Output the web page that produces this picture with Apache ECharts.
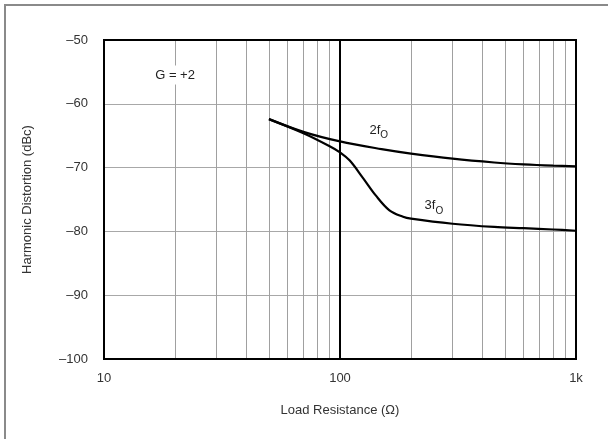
<!DOCTYPE html>
<html><head><meta charset="utf-8">
<script src="https://cdn.jsdelivr.net/npm/echarts@6/dist/echarts.min.js"></script>
<style>html,body{margin:0;padding:0;background:#fff}#c{width:608px;height:439px}</style>
</head><body><div id="c"></div>
<script>
var resistance2 = [50, 70, 100, 150, 200, 300, 450, 600, 800, 1000];
var hd2 = [-62.4, -64.4, -65.9, -67.1, -67.8, -68.6, -69.2, -69.5, -69.7, -69.8];
var resistance3 = [50, 70, 90, 100, 110, 125, 142, 162, 185, 200, 300, 450, 600, 800, 1000];
var hd3 = [-62.4, -64.6, -66.6, -67.6, -68.9, -71.6, -74.4, -76.7, -77.7, -78.0, -78.8, -79.3, -79.5, -79.7, -79.9];
var minorX = [20, 30, 40, 50, 60, 70, 80, 90, 200, 300, 400, 500, 600, 700, 800, 900];
var majorX = [100];
var xTickLabels = {10: '10', 100: '100', 1000: '1k'};

var font = 'Liberation Sans, Arial, sans-serif';
var chart = echarts.init(document.getElementById('c'));
var lblRich = {
  b: {fontSize: 13, fontFamily: font, color: '#222'},
  s: {fontSize: 10, fontFamily: font, color: '#222', padding: [10, 0, 0, 0]}
};
chart.setOption({
  animation: false,
  grid: {left: 104, top: 40, width: 472, height: 319, show: true, borderColor: '#000', borderWidth: 2, backgroundColor: 'transparent', z: 10},
  graphic: [
    {type: 'polyline', shape: {points: [[5, 439], [5, 5], [608, 5]]}, style: {stroke: '#8a8a8a', lineWidth: 2, fill: null}}
  ],
  xAxis: {
    type: 'log', logBase: 10, min: 10, max: 1000,
    name: 'Load Resistance (Ω)', nameLocation: 'middle', nameGap: 45,
    nameTextStyle: {fontSize: 13, fontFamily: font, color: '#333'},
    axisLine: {show: false}, axisTick: {show: false}, splitLine: {show: false},
    axisLabel: {fontSize: 13, fontFamily: font, color: '#333', margin: 13,
      formatter: function (v) { return xTickLabels[Math.round(v)] || ''; }}
  },
  yAxis: {
    type: 'value', min: -100, max: -50, interval: 10,
    name: 'Harmonic Distortion (dBc)', nameLocation: 'middle', nameGap: 70,
    nameTextStyle: {fontSize: 13, fontFamily: font, color: '#333'},
    axisLine: {show: false}, axisTick: {show: false},
    splitLine: {show: true, lineStyle: {color: '#a8a8a8', width: 1}},
    axisLabel: {fontSize: 13, fontFamily: font, color: '#333', margin: 16,
      formatter: function (v) { return String(v).replace('-', '\u2013'); }}
  },
  series: [
    {type: 'line', data: [], silent: true,
      markLine: {silent: true, symbol: 'none', label: {show: false},
        lineStyle: {color: '#a0a0a0', width: 1, type: 'solid'},
        data: minorX.map(function (v) { return {xAxis: v}; })}},
    {type: 'line', data: [], silent: true,
      markLine: {silent: true, symbol: 'none', label: {show: false},
        lineStyle: {color: '#000', width: 2, type: 'solid'},
        data: majorX.map(function (v) { return {xAxis: v}; })},
      markPoint: {symbol: 'circle', symbolSize: 0, silent: true,
        data: [
          {coord: [20, -55.5], label: {show: true, formatter: 'G = +2', fontSize: 13, fontFamily: font, color: '#222', backgroundColor: '#fff', padding: [3, 1, 3, 1]}},
          {coord: [146, -64.2], label: {show: true, formatter: '{b|2f}{s|O}', rich: lblRich}},
          {coord: [250, -76.0], label: {show: true, formatter: '{b|3f}{s|O}', rich: lblRich}}
        ]}},
    {type: 'line', name: '2fO', data: resistance2.map(function (r, i) { return [r, hd2[i]]; }),
      smooth: 0.35, showSymbol: false, lineStyle: {color: '#000', width: 2.2}, z: 5},
    {type: 'line', name: '3fO', data: resistance3.map(function (r, i) { return [r, hd3[i]]; }),
      smooth: 0.35, showSymbol: false, lineStyle: {color: '#000', width: 2.2}, z: 5}
  ]
});
</script></body></html>
